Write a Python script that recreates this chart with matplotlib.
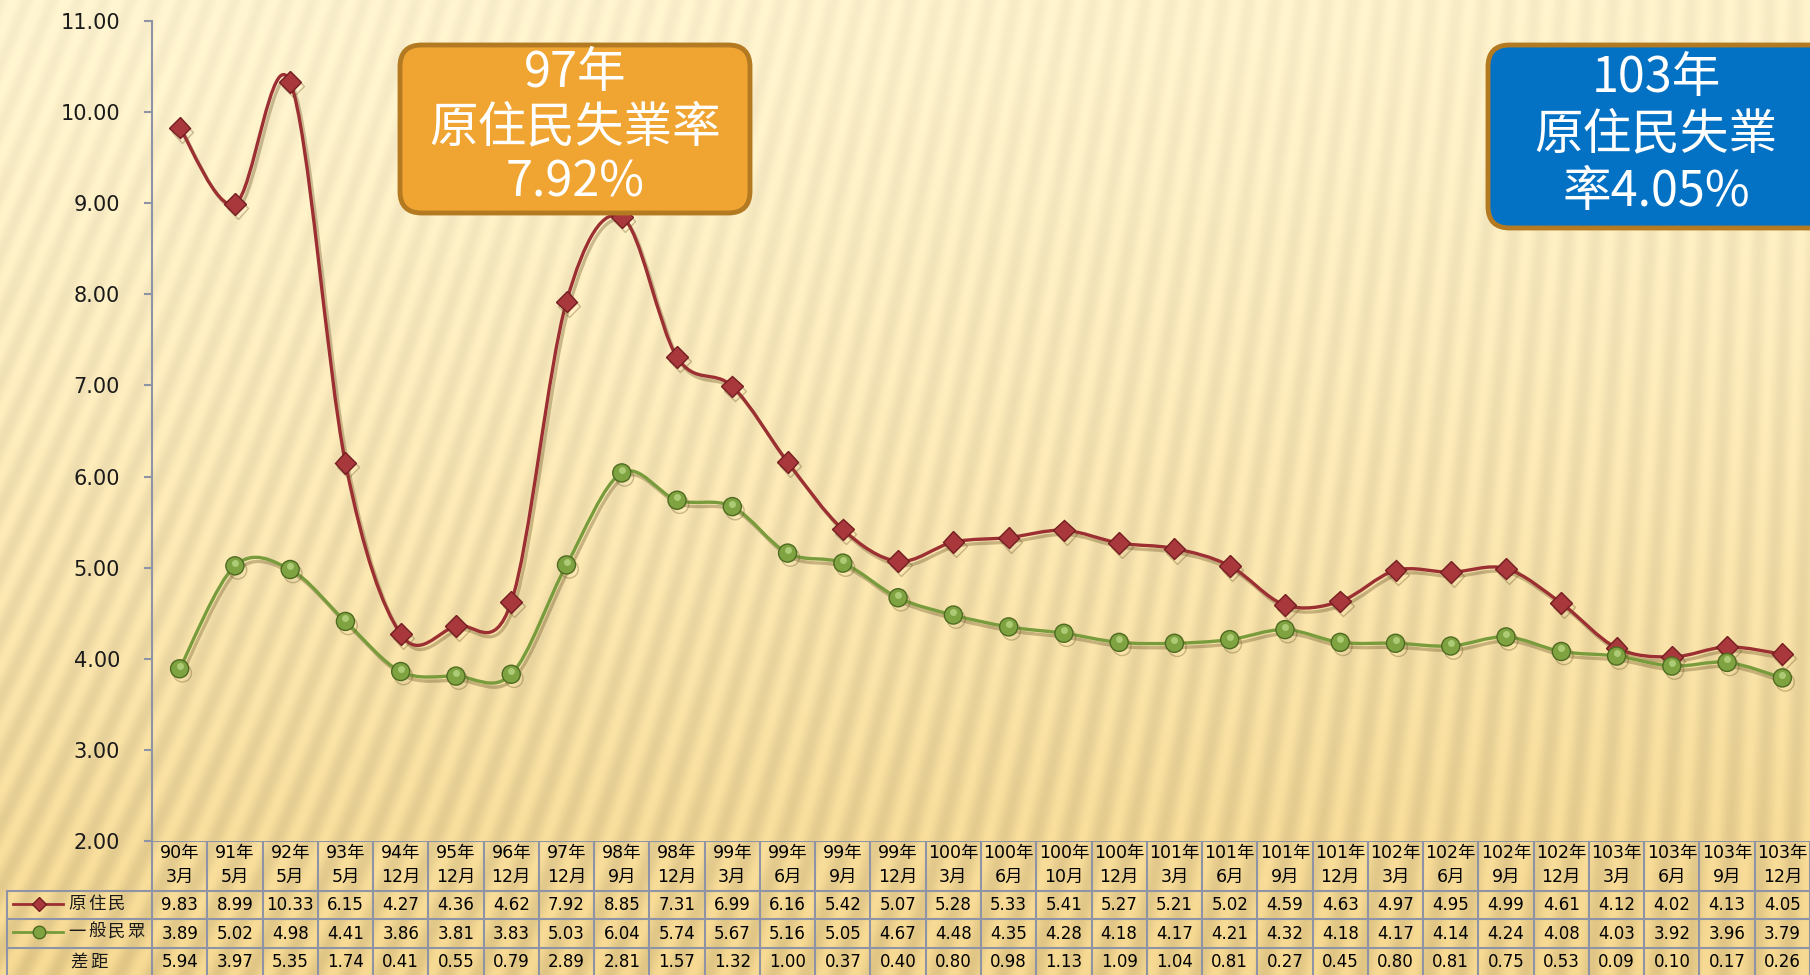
import numpy as np
import matplotlib
matplotlib.use('Agg')
import matplotlib.pyplot as plt
import matplotlib.patheffects as pe
from matplotlib.path import Path
from matplotlib.patches import PathPatch, FancyBboxPatch
from matplotlib import transforms

plt.rcParams['font.family'] = ['DejaVu Sans', 'Noto Sans CJK TC']

# data
years = ['90年', '91年', '92年', '93年', '94年', '95年', '96年', '97年', '98年', '98年',
         '99年', '99年', '99年', '99年', '100年', '100年', '100年', '100年', '101年', '101年',
         '101年', '101年', '102年', '102年', '102年', '102年', '103年', '103年', '103年', '103年']
months = ['3月', '5月', '5月', '5月', '12月', '12月', '12月', '12月', '9月', '12月',
          '3月', '6月', '9月', '12月', '3月', '6月', '10月', '12月', '3月', '6月',
          '9月', '12月', '3月', '6月', '9月', '12月', '3月', '6月', '9月', '12月']
indigenous = [9.83, 8.99, 10.33, 6.15, 4.27, 4.36, 4.62, 7.92, 8.85, 7.31,
              6.99, 6.16, 5.42, 5.07, 5.28, 5.33, 5.41, 5.27, 5.21, 5.02,
              4.59, 4.63, 4.97, 4.95, 4.99, 4.61, 4.12, 4.02, 4.13, 4.05]
general = [3.89, 5.02, 4.98, 4.41, 3.86, 3.81, 3.83, 5.03, 6.04, 5.74,
           5.67, 5.16, 5.05, 4.67, 4.48, 4.35, 4.28, 4.18, 4.17, 4.21,
           4.32, 4.18, 4.17, 4.14, 4.24, 4.08, 4.03, 3.92, 3.96, 3.79]
gap = [5.94, 3.97, 5.35, 1.74, 0.41, 0.55, 0.79, 2.89, 2.81, 1.57,
       1.32, 1.00, 0.37, 0.40, 0.80, 0.98, 1.13, 1.09, 1.04, 0.81,
       0.27, 0.45, 0.80, 0.81, 0.75, 0.53, 0.09, 0.10, 0.17, 0.26]
row_names = ['原住民', '一般民眾', '差距']
yticks = [2, 3, 4, 5, 6, 7, 8, 9, 10, 11]

W, H = 1810, 975
RED, GREEN = '#9B2F32', '#789B3C'
GRID = '#8E94A6'

fig = plt.figure(figsize=(W / 100, H / 100), dpi=100)

# background: gold gradient with soft streaks
bg = fig.add_axes([0, 0, 1, 1], zorder=-5)
yy, xx = np.mgrid[0:H, 0:W].astype(float)
s = xx / W
t = yy / H
top = np.array([253, 242, 206]) / 255
bot = np.array([236, 208, 140]) / 255
mix = (t ** 1.3)[..., None] + 0.08 * s[..., None]
mix = np.clip(mix, 0, 1)
img = top * (1 - mix) + bot * mix
tilt = 0.38 * (1 - s) + 0.03
streak = np.cos(2 * np.pi * (xx + tilt * yy) / 26.0)
amp = 0.02 + 0.03 * t
img = img * (1 - amp * streak)[..., None]
bg.imshow(np.clip(img, 0, 1), aspect='auto', extent=[0, W, H, 0])
bg.set_xlim(0, W)
bg.set_ylim(H, 0)
bg.axis('off')

# main chart
ax = fig.add_axes([152 / W, (H - 841) / H, (W - 152) / W, (841 - 21) / H])
ax.patch.set_alpha(0)
n = len(indigenous)
x = np.arange(n)
ax.set_xlim(-0.5, n - 0.5)
ax.set_ylim(2, 11)
for sp in ['top', 'right', 'bottom']:
    ax.spines[sp].set_visible(False)
ax.spines['left'].set_color(GRID)
ax.spines['left'].set_linewidth(1.5)
ax.set_xticks([])
ax.set_yticks(yticks)
ax.set_yticklabels(['%.2f' % v for v in yticks], fontsize=15, color='#1a1a1a')
ax.tick_params(axis='y', direction='out', length=6, width=1.5, color=GRID, pad=17)


def smooth_path(xs, ys):
    # excel-like smoothed line: catmull-rom as cubic bezier segments
    pts = np.column_stack([xs, ys])
    ext = np.vstack([pts[0], pts, pts[-1]])
    verts = [tuple(pts[0])]
    codes = [Path.MOVETO]
    for i in range(len(pts) - 1):
        p0, p1, p2, p3 = ext[i], ext[i + 1], ext[i + 2], ext[i + 3]
        c1 = p1 + (p2 - p0) / 6.0
        c2 = p2 - (p3 - p1) / 6.0
        verts += [tuple(c1), tuple(c2), tuple(p2)]
        codes += [Path.CURVE4] * 3
    return Path(verts, codes)


shadow = [pe.SimpleLineShadow(offset=(2, -3), shadow_color='#6b5424', alpha=0.35), pe.Normal()]

for vals, col in [(indigenous, RED), (general, GREEN)]:
    patch = PathPatch(smooth_path(x, vals), fill=False, edgecolor=col, lw=2.4, zorder=3,
                      path_effects=shadow)
    ax.add_patch(patch)

ax.plot(x, indigenous, ls='none', marker='D', ms=11, mfc='#A8383B', mec='#741E21', mew=1.0,
        zorder=4, path_effects=shadow)
ax.plot(x, general, ls='none', marker='o', ms=13, mfc='#7FA341', mec='#4E6A20', mew=1.0,
        zorder=4, path_effects=shadow)
hl = transforms.offset_copy(ax.transData, fig=fig, x=0, y=3, units='dots')
ax.plot(x, general, ls='none', marker='o', ms=5, mfc='#B9D683', mec='none', alpha=0.8,
        zorder=5, transform=hl)

# data table
colw = (W - 152) / n
tab = fig.add_axes([0, 0, 1, (H - 841) / H])
tab.patch.set_alpha(0)
tab.set_xlim(-0.5 - 152 / colw, n - 0.5)
tab.set_ylim(H, 841)
tab.axis('off')
left = -0.5 - 145 / colw
rows_y = [891, 919, 948, 977]
tab.plot([-0.5, n - 0.5], [841, 841], color=GRID, lw=1.5)
for yv in rows_y[:-1]:
    tab.plot([left, n - 0.5], [yv, yv], color=GRID, lw=1.5)
for i in range(n + 1):
    tab.plot([i - 0.5, i - 0.5], [841, H], color=GRID, lw=1.5)
tab.plot([left, left], [891, H], color=GRID, lw=1.5)

for i in range(n):
    tab.text(i, 853, years[i], ha='center', va='center', fontsize=12.5)
    tab.text(i, 877, months[i], ha='center', va='center', fontsize=12.5)
    tab.text(i, 905, '%.2f' % indigenous[i], ha='center', va='center', fontsize=12)
    tab.text(i, 934, '%.2f' % general[i], ha='center', va='center', fontsize=12)
    tab.text(i, 962, '%.2f' % gap[i], ha='center', va='center', fontsize=12)


def px2x(p):
    return -0.5 + (p - 152) / colw


tab.plot([px2x(13), px2x(63)], [904, 904], color=RED, lw=2)
tab.plot([px2x(39)], [904], marker='D', ms=7, mfc='#A8383B', mec='#741E21')
tab.plot([px2x(13), px2x(63)], [932, 932], color=GREEN, lw=2)
tab.plot([px2x(39)], [932], marker='o', ms=9, mfc='#7FA341', mec='#4E6A20')
fam = ['Noto Sans CJK TC', 'DejaVu Sans']
for name, yv, x0 in zip(row_names, [904, 932, 962], [68, 68, 70]):
    for k, ch in enumerate(name):
        tab.text(px2x(x0 + 20 * k), yv, ch, ha='left', va='center', fontsize=12.5,
                 family=fam, color='#1a1a1a')

# callout boxes
for x0, y0, x1, y1, face, lines, cx, ly in [
        (400, 45, 750, 213, '#F0A532', ['97年', '原住民失業率', '7.92%'], 575, [73, 128, 183]),
        (1488, 45, 1840, 228, '#0472C4', ['103年', '原住民失業', '率4.05%'], 1656, [78, 135, 192])]:
    box = FancyBboxPatch((x0 / W, 1 - y1 / H), (x1 - x0) / W, (y1 - y0) / H,
                         boxstyle='round,pad=0,rounding_size=0.012',
                         transform=fig.transFigure, facecolor=face, edgecolor='#B47A22',
                         lw=3.5, zorder=10, mutation_aspect=W / H)
    fig.add_artist(box)
    for txt, yv in zip(lines, ly):
        fig.text(cx / W, 1 - yv / H, txt, ha='center', va='center', fontsize=35,
                 color='white', family=fam, zorder=11)

fig.savefig('out.png', dpi=100)
